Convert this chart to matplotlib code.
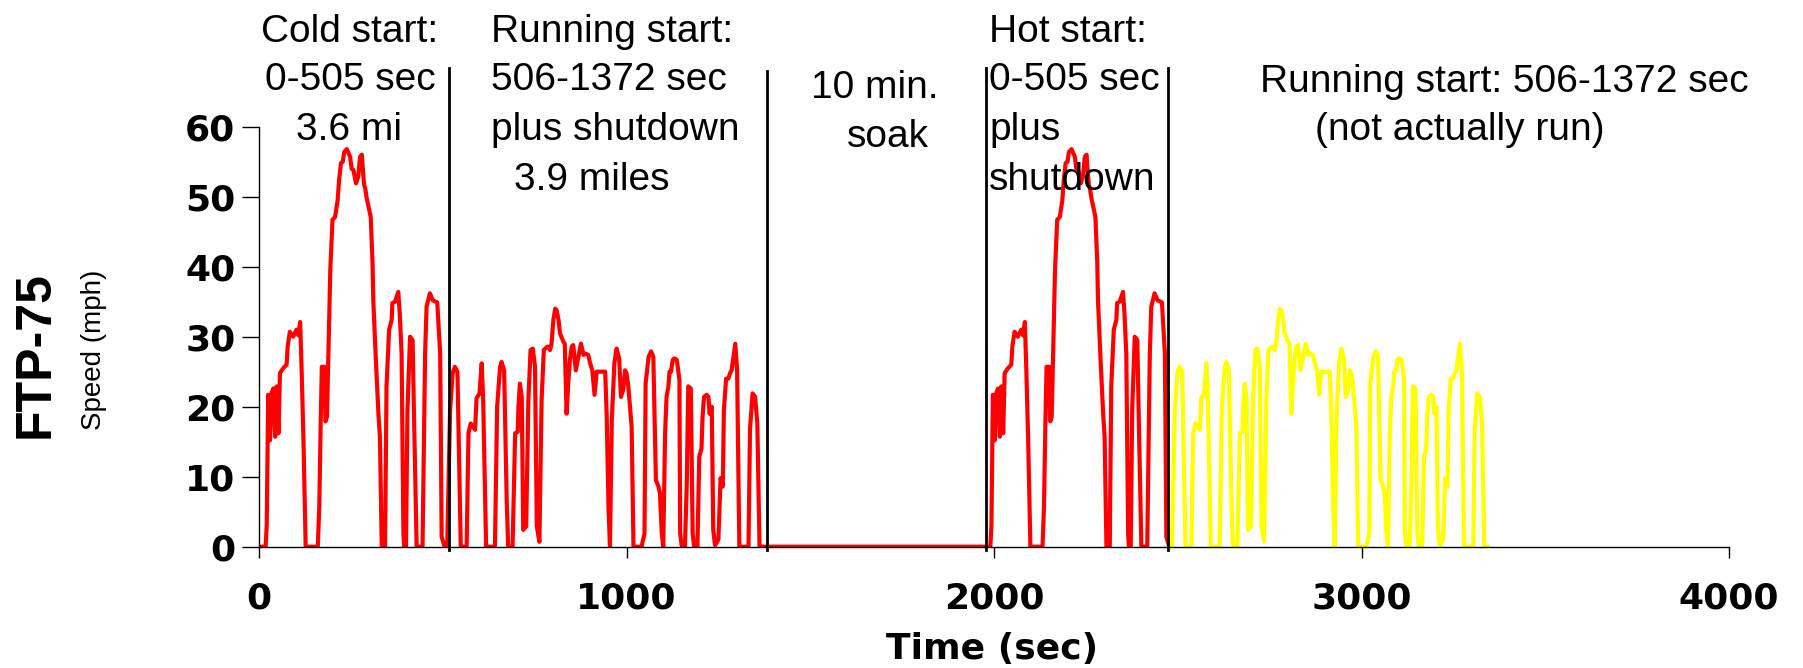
import numpy as np
import matplotlib.pyplot as plt

# FTP-75 speed trace (time in s, speed in mph)
# bag 1: cold start portion, 0-505 s
bag1_t = [0, 18, 21, 25, 30, 34, 39, 44, 48, 53,
          57, 66, 75, 78, 84, 93, 102, 107, 112, 116,
          121, 125, 127, 160, 164, 168, 171, 178, 181, 185,
          190, 194, 200, 207, 214, 218, 223, 228, 232, 239,
          248, 252, 257, 264, 270, 275, 280, 282, 286, 289,
          293, 298, 304, 309, 311, 318, 325, 329, 334, 343,
          347, 354, 361, 363, 370, 379, 383, 388, 393, 395,
          400, 404, 411, 418, 422, 429, 445, 452, 456, 465,
          473, 485, 493, 497, 505]
bag1_v = [0, 0, 3, 21.7, 15.2, 21.9, 22.6, 15.7, 22.9, 16.2,
          24.8, 25.5, 26, 28.6, 30.7, 30, 31, 30.2, 32.1, 25.2,
          15.2, 5.2, 0, 0, 5.7, 18.1, 25.7, 25.7, 17.9, 18.6,
          30, 39.5, 46.7, 47.1, 49.5, 52.4, 54.8, 55, 56.4, 56.8,
          55.7, 54, 53.8, 51.9, 52.9, 55.7, 56, 54.3, 51.7, 51.2,
          49.8, 48.6, 47.1, 40.5, 35.2, 26.7, 19, 15.7, 0, 0,
          22.9, 31, 32.4, 34.8, 35, 36.4, 33.3, 27.6, 1.9, 0,
          0, 19.5, 30, 29.5, 18.1, 0, 0, 27.6, 34.3, 36.2,
          35.2, 34.9, 27.6, 1.4, 0]

# bag 2: running (stabilised) portion, 506-1372 s
bag2_t = [505, 512, 520, 527, 533, 540, 545, 549, 565, 570,
          576, 588, 592, 600, 606, 610, 618, 642, 648, 656,
          660, 667, 674, 678, 690, 697, 704, 706, 710, 715,
          719, 727, 733, 739, 745, 751, 756, 763, 769, 775,
          785, 792, 796, 801, 806, 810, 815, 819, 828, 832,
          837, 842, 846, 851, 855, 862, 869, 876, 883, 887,
          896, 901, 907, 913, 919, 925, 942, 946, 951, 955,
          960, 967, 973, 980, 985, 991, 996, 1000, 1005, 1014,
          1019, 1041, 1049, 1052, 1060, 1067, 1073, 1080, 1087, 1091,
          1096, 1100, 1105, 1109, 1114, 1117, 1121, 1126, 1130, 1137,
          1144, 1146, 1150, 1159, 1164, 1168, 1175, 1180, 1184, 1193,
          1198, 1204, 1207, 1211, 1218, 1223, 1226, 1232, 1236, 1241,
          1250, 1256, 1262, 1265, 1271, 1277, 1282, 1286, 1290, 1296,
          1301, 1307, 1332, 1336, 1343, 1350, 1356, 1362, 1372]
bag2_v = [0, 0, 19.5, 24.8, 25.7, 25, 11.4, 0, 0, 16.2,
          17.6, 16.7, 21.2, 21.9, 26.2, 21, 0, 0, 20, 25.7,
          26.4, 25.2, 6.7, 0, 0, 16.2, 16.4, 20, 23.3, 21.4,
          2.4, 2.9, 21, 28.1, 28.3, 25.7, 2.9, 0.7, 21, 28.1,
          28.6, 28.1, 29, 32.4, 34, 33.8, 32.4, 30.5, 29.3, 29,
          19, 23.8, 26.7, 28.6, 28.8, 25.2, 27.1, 29, 27.4, 27.6,
          27.4, 26.2, 25.2, 21.7, 25, 25, 25, 19, 5.7, 0,
          18.1, 26.2, 28.3, 26.9, 21.4, 22.4, 25.2, 24.8, 22.9, 17.1,
          0, 0, 1.9, 23.3, 27.1, 27.9, 27.1, 9.5, 8.6, 7.6,
          1.9, 0, 16.2, 21.4, 22.9, 25, 25, 26.7, 26.9, 26.7,
          23.8, 1.9, 0.2, 0, 9, 22.9, 22.6, 1.9, 0, 0,
          12.9, 14, 18.6, 21.4, 21.7, 21.4, 19, 20, 2.4, 0.2,
          1, 9.8, 8.6, 19.5, 24, 24, 24.8, 25.2, 26.7, 29,
          25.2, 0, 0, 16.7, 21.9, 21.4, 17.6, 0, 0]

hot_offset = 1972  # hot start begins after the 10 min soak
phase_edges = [517, 1383, 1978, 2473]
edge_tops = [68.4, 67.9, 68.4, 68.4]

x_ticks = [0, 1000, 2000, 3000, 4000]
y_ticks = [0, 10, 20, 30, 40, 50, 60]

W, H = 1803, 668


def fx(px):
    return px / W


def fy(py):
    return 1 - py / H


t1 = np.array(bag1_t, dtype=float)
t2 = np.array(bag2_t, dtype=float)
v1 = np.array(bag1_v)
v2 = np.array(bag2_v)

# cold start + running + soak + hot start in red, second running part in yellow
red_t = np.concatenate([t1, t2[1:], t1 + hot_offset])
red_v = np.concatenate([v1, v2[1:], v1])
yel_t = t2 + hot_offset
yel_v = v2

fig = plt.figure(figsize=(W / 100, H / 100), dpi=100)
ax = fig.add_axes([fx(259), fy(546.7), fx(1729) - fx(259), (546.7 - 126.7) / H])

ax.plot(red_t, red_v, color='#ff0000', lw=3, solid_joinstyle='round')
ax.plot(yel_t, yel_v, color='#ffff00', lw=3, solid_joinstyle='round')

for e, top in zip(phase_edges, edge_tops):
    ax.plot([e, e], [-0.5, top], color='black', lw=2, clip_on=False)

ax.set_xlim(0, 4000)
ax.set_ylim(0, 60)
ax.set_xticks(x_ticks)
ax.set_yticks(y_ticks)
ax.spines['top'].set_visible(False)
ax.spines['right'].set_visible(False)
ax.spines['left'].set_linewidth(1.0)
ax.spines['bottom'].set_linewidth(1.0)
ax.tick_params(axis='y', direction='out', length=12, width=1, pad=5)
ax.tick_params(axis='x', direction='out', length=8, width=1, pad=17)
for lab in ax.get_xticklabels() + ax.get_yticklabels():
    lab.set_fontfamily('DejaVu Sans')
    lab.set_fontweight('bold')
    lab.set_fontsize(26)

fig.text(fx(992), fy(659), 'Time (sec)', ha='center', va='baseline',
         fontfamily='DejaVu Sans', fontweight='bold', fontsize=26)
fig.text(fx(36), fy(355), 'FTP-75', rotation=90, ha='center', va='center',
         fontfamily='Liberation Sans', fontweight='bold', fontsize=36)
fig.text(fx(94), fy(350), 'Speed (mph)', rotation=90, ha='center', va='center',
         fontfamily='Liberation Sans', fontsize=20)

note = dict(fontfamily='Liberation Sans', fontsize=28, va='baseline')
fig.text(fx(350), fy(42), 'Cold start:', ha='center', **note)
fig.text(fx(350), fy(90), '0-505 sec', ha='center', **note)
fig.text(fx(349), fy(140), '3.6 mi', ha='center', **note)

fig.text(fx(491), fy(42), 'Running start:', ha='left', **note)
fig.text(fx(491), fy(90), '506-1372 sec', ha='left', **note)
fig.text(fx(491), fy(140), 'plus shutdown', ha='left', **note)
fig.text(fx(514), fy(190), '3.9 miles', ha='left', **note)

fig.text(fx(875), fy(98), '10 min.', ha='center', **note)
fig.text(fx(888), fy(147), 'soak', ha='center', **note)

fig.text(fx(989), fy(42), 'Hot start:', ha='left', **note)
fig.text(fx(989), fy(90), '0-505 sec', ha='left', **note)
fig.text(fx(989), fy(140), 'plus', ha='left', **note)
fig.text(fx(989), fy(190), 'shutdown', ha='left', **note)

fig.text(fx(1260), fy(92), 'Running start: 506-1372 sec', ha='left', **note)
fig.text(fx(1315), fy(140), '(not actually run)', ha='left', **note)

fig.savefig('out.png', dpi=100)
